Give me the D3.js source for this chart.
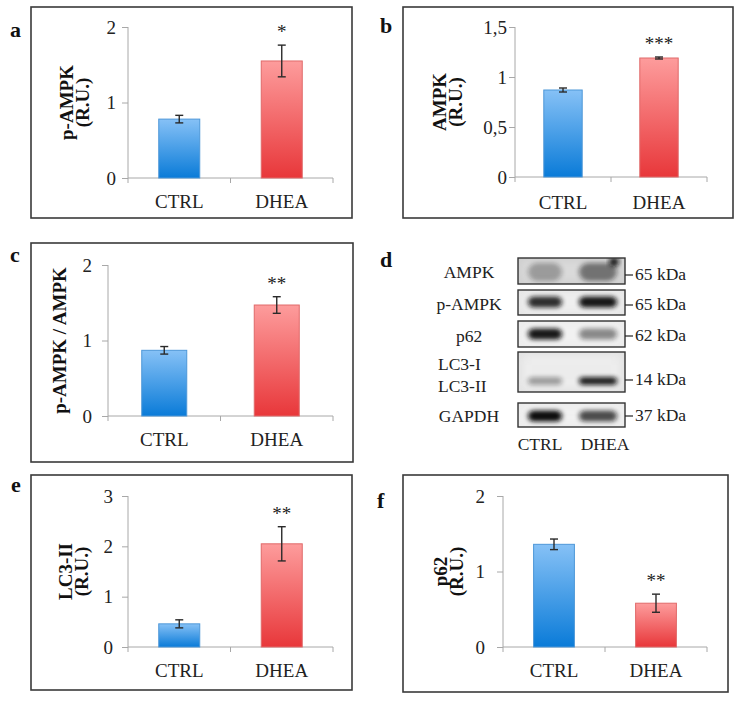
<!DOCTYPE html>
<html><head><meta charset="utf-8">
<script src="https://cdn.jsdelivr.net/npm/d3@7/dist/d3.min.js"></script>
<style>body{margin:0;background:#fff}svg{display:block}</style>
</head><body>
<svg id="chart" width="735" height="701"></svg>
<script>
// ---------- DATA ----------
const categories = ["CTRL", "DHEA"];

const pAMPKValues = [0.78, 1.55];
const pAMPKErrors = [0.05, 0.21];
const pAMPKStars = ["", "*"];
const pAMPKTicks = [0, 1, 2];
const pAMPKTickLabels = ["0", "1", "2"];

const AMPKValues = [0.87, 1.19];
const AMPKErrors = [0.02, 0.01];
const AMPKStars = ["", "***"];
const AMPKTicks = [0, 0.5, 1, 1.5];
const AMPKTickLabels = ["0", "0,5", "1", "1,5"];

const ratioValues = [0.87, 1.47];
const ratioErrors = [0.05, 0.11];
const ratioStars = ["", "**"];
const ratioTicks = [0, 1, 2];
const ratioTickLabels = ["0", "1", "2"];

const LC3Values = [0.46, 2.05];
const LC3Errors = [0.08, 0.34];
const LC3Stars = ["", "**"];
const LC3Ticks = [0, 1, 2, 3];
const LC3TickLabels = ["0", "1", "2", "3"];

const p62Values = [1.36, 0.58];
const p62Errors = [0.07, 0.12];
const p62Stars = ["", "**"];
const p62Ticks = [0, 1, 2];
const p62TickLabels = ["0", "1", "2"];

// Western blot (panel d)
const blotProteins = ["AMPK", "p-AMPK", "p62", "LC3-I|LC3-II", "GAPDH"];
const blotSizes = ["65 kDa", "65 kDa", "62 kDa", "14 kDa", "37 kDa"];
const blotCTRL = [0.30, 0.85, 0.95, 0.35, 1.00];
const blotDHEA = [0.50, 0.95, 0.45, 0.90, 0.72];

// ---------- LAYOUT ----------
const svg = d3.select("#chart");
const defs = svg.append("defs");
const FONT = "'Liberation Serif','Times New Roman',serif";

function grad(id, top, bottom) {
  const g = defs.append("linearGradient").attr("id", id)
    .attr("x1", 0).attr("y1", 0).attr("x2", 0).attr("y2", 1);
  g.append("stop").attr("offset", "0%").attr("stop-color", top);
  g.append("stop").attr("offset", "100%").attr("stop-color", bottom);
}
grad("gBlue", "#86c1f6", "#0a7bd8");
grad("gRed", "#fd9c9c", "#e8373a");
const fills = ["url(#gBlue)", "url(#gRed)"];
const strokes = ["#4d97d8", "#e06a6a"];

const panels = [
  {letter: "a", lx: 10, ly: 37, box: [31, 7, 352, 218], x0: 128, x1: 333, yTop: 27, yBot: 178,
   values: pAMPKValues, errors: pAMPKErrors, stars: pAMPKStars, ticks: pAMPKTicks, tickLabels: pAMPKTickLabels,
   tickPad: 12, label: ["p-AMPK", "(R.U.)"], labelX: [73, 89], xlabGap: 31},
  {letter: "b", lx: 380, ly: 33, box: [403, 7, 733, 218], x0: 515, x1: 707, yTop: 27, yBot: 177,
   values: AMPKValues, errors: AMPKErrors, stars: AMPKStars, ticks: AMPKTicks, tickLabels: AMPKTickLabels,
   tickPad: 8, label: ["AMPK", "(R.U.)"], labelX: [446, 462], xlabGap: 33},
  {letter: "c", lx: 10, ly: 262, box: [31, 243, 353, 462], x0: 108, x1: 333, yTop: 265, yBot: 416,
   values: ratioValues, errors: ratioErrors, stars: ratioStars, ticks: ratioTicks, tickLabels: ratioTickLabels,
   tickPad: 16, label: ["p-AMPK / AMPK"], labelX: [66], xlabGap: 31},
  {letter: "e", lx: 11, ly: 492, box: [31, 475, 352, 690], x0: 128, x1: 333, yTop: 496, yBot: 647,
   values: LC3Values, errors: LC3Errors, stars: LC3Stars, ticks: LC3Ticks, tickLabels: LC3TickLabels,
   tickPad: 15, label: ["LC3-II", "(R.U.)"], labelX: [72, 88], xlabGap: 31},
  {letter: "f", lx: 377, ly: 508, box: [403, 475, 728, 692], x0: 503, x1: 707, yTop: 496, yBot: 647,
   values: p62Values, errors: p62Errors, stars: p62Stars, ticks: p62Ticks, tickLabels: p62TickLabels,
   tickPad: 18, label: ["p62", "(R.U.)"], labelX: [447, 463], xlabGap: 31}
];

panels.forEach(p => {
  const g = svg.append("g");
  const [bx0, by0, bx1, by1] = p.box;
  g.append("rect").attr("x", bx0).attr("y", by0).attr("width", bx1 - bx0).attr("height", by1 - by0)
    .attr("fill", "none").attr("stroke", "#3a3a3a").attr("stroke-width", 1.6);
  g.append("text").attr("x", p.lx).attr("y", p.ly).text(p.letter)
    .attr("font-family", FONT).attr("font-weight", "bold").attr("font-size", 22).attr("fill", "#111");

  const y = d3.scaleLinear().domain([0, d3.max(p.ticks)]).range([p.yBot, p.yTop]);
  const x = d3.scaleBand().domain(categories).range([p.x0, p.x1]).padding(0);
  const barW = x.bandwidth() * 0.4;

  // y axis
  const ya = g.append("g").attr("transform", `translate(${p.x0},0)`)
    .call(d3.axisLeft(y).tickValues(p.ticks).tickSize(6).tickPadding(p.tickPad - 6)
      .tickFormat((d, i) => p.tickLabels[i]));
  ya.select(".domain").attr("stroke", "#a8a8a8").attr("d", `M0,${p.yTop}V${p.yBot + 5}`);
  ya.selectAll(".tick line").attr("stroke", "#a8a8a8");
  ya.selectAll(".tick text").attr("font-family", FONT).attr("font-size", 19).attr("fill", "#222");

  // x axis
  const xa = g.append("g").attr("transform", `translate(0,${p.yBot})`)
    .call(d3.axisBottom(x).tickSize(0).tickPadding(p.xlabGap - 14));
  xa.select(".domain").attr("stroke", "#a8a8a8").attr("d", `M${p.x0},0H${p.x1}`);
  xa.selectAll(".tick text").attr("font-family", FONT).attr("font-size", 19).attr("fill", "#222");
  const boundaries = [x(categories[1]), p.x1];
  g.selectAll(".bnd").data(boundaries).join("line")
    .attr("x1", d => d).attr("x2", d => d).attr("y1", p.yBot).attr("y2", p.yBot + 5)
    .attr("stroke", "#a8a8a8");

  // bars
  const data = categories.map((c, i) => ({c, v: p.values[i], e: p.errors[i], s: p.stars[i], i}));
  g.selectAll(".bar").data(data).join("rect")
    .attr("x", d => x(d.c) + (x.bandwidth() - barW) / 2)
    .attr("y", d => y(d.v)).attr("width", barW).attr("height", d => p.yBot - y(d.v))
    .attr("fill", d => fills[d.i]).attr("stroke", d => strokes[d.i]).attr("stroke-width", 1);

  // error bars
  const cx = d => x(d.c) + x.bandwidth() / 2;
  const eb = g.selectAll(".err").data(data).join("g").attr("stroke", "#2a2a2a").attr("stroke-width", 1.4);
  eb.append("line").attr("x1", cx).attr("x2", cx).attr("y1", d => y(d.v - d.e)).attr("y2", d => y(d.v + d.e));
  eb.append("line").attr("x1", d => cx(d) - 4).attr("x2", d => cx(d) + 4).attr("y1", d => y(d.v - d.e)).attr("y2", d => y(d.v - d.e));
  eb.append("line").attr("x1", d => cx(d) - 4).attr("x2", d => cx(d) + 4).attr("y1", d => y(d.v + d.e)).attr("y2", d => y(d.v + d.e));

  // stars
  g.selectAll(".star").data(data.filter(d => d.s)).join("text")
    .attr("x", cx).attr("y", d => y(d.v + d.e) - 7)
    .attr("text-anchor", "middle").attr("font-family", FONT).attr("font-size", 19).attr("fill", "#222")
    .text(d => d.s);

  // y label
  const cy = (p.yTop + p.yBot) / 2;
  p.label.forEach((t, i) => {
    g.append("text").attr("transform", `translate(${p.labelX[i]},${cy}) rotate(-90)`)
      .attr("text-anchor", "middle").attr("font-family", FONT).attr("font-weight", "bold")
      .attr("font-size", 19).attr("fill", "#111").text(t);
  });
});

// ---------- Panel d: western blot ----------
const gd = svg.append("g");
gd.append("text").attr("x", 380).attr("y", 267).text("d")
  .attr("font-family", FONT).attr("font-weight", "bold").attr("font-size", 22).attr("fill", "#111");

const blur = defs.append("filter").attr("id", "blur").attr("x", "-30%").attr("y", "-100%").attr("width", "160%").attr("height", "300%");
blur.append("feGaussianBlur").attr("stdDeviation", "2.5 2");
const blur2 = defs.append("filter").attr("id", "blurBg").attr("x", "-10%").attr("y", "-10%").attr("width", "120%").attr("height", "120%");
blur2.append("feGaussianBlur").attr("stdDeviation", "4");

const rowBoxes = [[258, 284], [290, 315], [321, 347], [352, 392], [403, 427]];
const bandY = [272, 302, 334, 381, 416];
const labelBase = [278, 310, 342, null, 422];
const kdaBase = [280, 310, 341, 385, 421];
const laneX = d3.scalePoint().domain(categories).range([545, 598]);
const blotX0 = 518, blotX1 = 625;
const bgTones = ["#cfcfcf", "#e6e6e6", "#ececec", "#e2e2e2", "#ececec"];
const BFS = 17.5;

blotProteins.forEach((name, r) => {
  const [y0, y1] = rowBoxes[r];
  const clipId = "clip" + r;
  defs.append("clipPath").attr("id", clipId).append("rect")
    .attr("x", blotX0).attr("y", y0).attr("width", blotX1 - blotX0).attr("height", y1 - y0);
  const rg = gd.append("g").attr("clip-path", `url(#${clipId})`);
  rg.append("rect").attr("x", blotX0).attr("y", y0).attr("width", blotX1 - blotX0).attr("height", y1 - y0)
    .attr("fill", bgTones[r]);
  rg.append("rect").attr("x", blotX0 + 4).attr("y", y0 + 3).attr("width", blotX1 - blotX0 - 8).attr("height", y1 - y0 - 6)
    .attr("fill", "#f4f4f4").attr("opacity", r === 0 ? 0.3 : 0.6).attr("filter", "url(#blurBg)");
  const inten = [blotCTRL[r], blotDHEA[r]];
  categories.forEach((c, i) => {
    const w = i === 0 ? 17 : 19;
    const h = r === 0 ? 9 : (r === 3 ? 4 : 5.5);
    rg.append("rect").attr("x", laneX(c) - w).attr("y", bandY[r] - h).attr("width", 2 * w).attr("height", 2 * h)
      .attr("rx", h).attr("fill", "#111").attr("opacity", inten[i]).attr("filter", "url(#blur)");
  });
  if (r === 0) {
    rg.append("ellipse").attr("cx", 614).attr("cy", 262).attr("rx", 5).attr("ry", 5).attr("fill", "#111")
      .attr("opacity", 0.9).attr("filter", "url(#blur)");
  }
  gd.append("rect").attr("x", blotX0).attr("y", y0).attr("width", blotX1 - blotX0).attr("height", y1 - y0)
    .attr("fill", "none").attr("stroke", "#333").attr("stroke-width", 1.4);

  // size marker
  const ty = kdaBase[r] - 5;
  gd.append("line").attr("x1", blotX1).attr("x2", blotX1 + 8).attr("y1", ty).attr("y2", ty).attr("stroke", "#222").attr("stroke-width", 1.2);
  gd.append("text").attr("x", blotX1 + 10).attr("y", kdaBase[r]).text(blotSizes[r])
    .attr("font-family", FONT).attr("font-size", BFS).attr("fill", "#222");

  // protein label
  if (name.includes("|")) {
    const parts = name.split("|");
    gd.append("text").attr("x", 438).attr("y", 370).text(parts[0]).attr("font-family", FONT).attr("font-size", BFS).attr("fill", "#222");
    gd.append("text").attr("x", 438).attr("y", 392).text(parts[1]).attr("font-family", FONT).attr("font-size", BFS).attr("fill", "#222");
  } else {
    gd.append("text").attr("x", 469).attr("y", labelBase[r]).attr("text-anchor", "middle").text(name)
      .attr("font-family", FONT).attr("font-size", BFS).attr("fill", "#222");
  }
});
categories.forEach(c => {
  gd.append("text").attr("x", c === "CTRL" ? 540 : 605).attr("y", 450).attr("text-anchor", "middle").text(c)
    .attr("font-family", FONT).attr("font-size", BFS).attr("fill", "#222");
});
</script>
</body></html>
